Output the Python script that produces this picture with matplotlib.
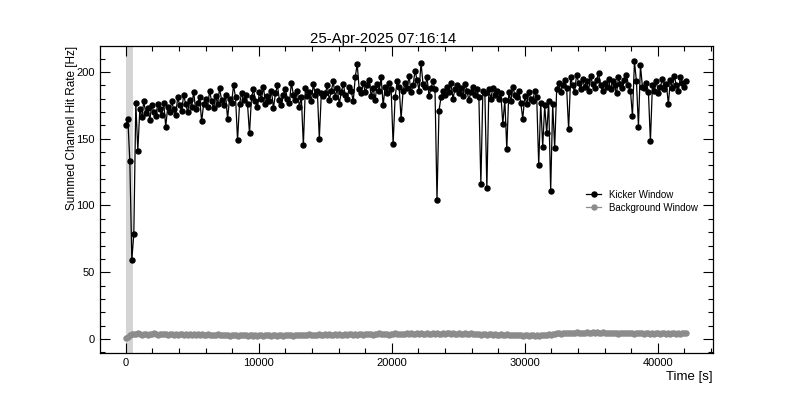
import numpy as np
import matplotlib
matplotlib.use("Agg")
import matplotlib.pyplot as plt
from matplotlib.ticker import MultipleLocator

plt.rcParams['font.family'] = ['Liberation Sans', 'DejaVu Sans']

# sample times [s], one every 150 s
time_s = np.arange(0, 42151, 150)

kicker_hz = [
    160, 165, 133, 59, 79, 177, 141, 172, 166, 178, 169, 173, 164, 175, 170, 167, 176, 172, 168, 177,
    159, 174, 170, 178, 172, 168, 181, 175, 171, 183, 176, 170, 179, 174, 185, 172, 177, 181, 163, 176,
    180, 174, 186, 178, 173, 182, 176, 188, 179, 175, 183, 165, 180, 177, 190, 181, 149, 176, 184, 179,
    183, 176, 154, 181, 187, 178, 174, 185, 180, 189, 176, 182, 178, 186, 173, 184, 190, 179, 175, 183,
    187, 180, 177, 192, 183, 179, 186, 174, 181, 145, 188, 182, 185, 178, 191, 183, 186, 150, 184, 182,
    184, 190, 179, 186, 193, 181, 188, 176, 185, 191, 183, 180, 189, 186, 178, 196, 206, 187, 184, 192,
    185, 190, 194, 182, 188, 179, 191, 186, 196, 175, 189, 184, 192, 187, 146, 181, 193, 189, 165, 186,
    192, 188, 197, 185, 190, 201, 194, 186, 207, 191, 189, 196, 182, 188, 193, 187, 104, 171, 181, 186,
    183, 189, 185, 192, 180, 187, 190, 184, 188, 182, 191, 186, 179, 185, 189, 183, 187, 181, 116, 186,
    184, 113, 187, 180, 188, 183, 186, 180, 184, 161, 179, 142, 185, 178, 189, 183, 181, 186, 177, 165,
    182, 176, 185, 180, 178, 186, 181, 130, 177, 144, 175, 154, 178, 111, 176, 143, 187, 192, 185, 190,
    194, 188, 157, 196, 190, 185, 198, 192, 187, 195, 189, 193, 186, 197, 191, 188, 194, 199, 190, 186,
    192, 189, 195, 187, 193, 190, 184, 196, 191, 188, 194, 198, 190, 186, 167, 208, 193, 159, 205, 189,
    188, 192, 185, 148, 190, 186, 193, 184, 189, 195, 187, 191, 176, 194, 188, 197, 190, 186, 196, 192,
    189, 193,
]

background_hz = [
    0.6, 1.2, 2.8, 3.4, 3.9, 3.5, 4.1, 3.6, 3.2, 4.0, 3.7, 3.3, 3.9, 3.5, 4.2, 3.6, 3.1, 3.8, 3.4, 4.0,
    3.6, 3.2, 3.9, 3.5, 3.0, 3.7, 3.3, 3.8, 3.4, 2.9, 3.6, 3.2, 3.7, 3.1, 3.5, 2.8, 3.4, 3.0, 3.6, 3.2,
    2.9, 3.4, 3.0, 2.6, 3.3, 2.9, 3.5, 2.7, 3.1, 2.6, 3.2, 2.8, 2.4, 3.1, 2.7, 3.3, 2.5, 2.9, 2.6, 3.2,
    2.8, 2.4, 3.0, 2.6, 2.3, 2.9, 2.5, 3.1, 2.7, 2.4, 3.0, 2.6, 2.9, 2.5, 3.2, 2.8, 2.4, 3.0, 2.7, 2.5,
    2.9, 2.6, 3.2, 2.8, 2.5, 3.1, 2.7, 3.3, 2.9, 2.6, 3.2, 2.8, 3.4, 3.0, 2.7, 3.3, 2.9, 3.5, 3.1, 2.8,
    3.4, 3.0, 3.6, 3.2, 2.9, 3.5, 3.1, 3.7, 3.3, 3.0, 3.6, 3.2, 3.8, 3.4, 3.1, 3.7, 3.3, 3.9, 3.5, 3.2,
    3.8, 3.4, 4.0, 3.6, 3.3, 3.9, 3.5, 4.1, 3.7, 3.4, 4.0, 3.6, 3.3, 3.9, 3.5, 4.2, 3.8, 3.4, 4.0, 3.7,
    3.5, 4.1, 3.7, 4.3, 3.9, 3.6, 4.2, 3.8, 4.4, 4.0, 3.7, 4.3, 3.9, 3.6, 4.2, 3.8, 4.4, 4.0, 3.7, 4.3,
    3.9, 4.5, 4.1, 3.8, 4.4, 4.0, 3.7, 4.3, 3.9, 3.6, 4.2, 3.8, 3.5, 4.1, 3.7, 3.4, 4.0, 3.6, 3.3, 3.9,
    3.5, 3.2, 3.8, 3.4, 3.0, 3.6, 3.2, 2.9, 3.5, 3.1, 2.8, 3.4, 3.0, 2.7, 3.3, 2.9, 2.6, 3.2, 2.8, 2.5,
    3.1, 2.7, 2.4, 3.0, 2.6, 2.3, 2.9, 2.5, 3.1, 2.7, 3.3, 2.9, 3.5, 3.2, 3.8, 3.5, 4.1, 4.4, 4.0, 4.6,
    4.2, 4.8, 4.4, 4.1, 4.7, 4.3, 4.9, 4.5, 4.2, 4.8, 4.4, 5.0, 4.6, 4.3, 4.9, 4.5, 5.2, 4.7, 4.4, 5.0,
    4.6, 4.2, 4.8, 4.4, 4.1, 4.7, 4.3, 4.0, 4.6, 4.2, 4.8, 4.4, 4.1, 4.7, 4.3, 3.9, 4.5, 4.1, 4.7, 4.3,
    4.0, 4.6, 4.2, 3.8, 4.4, 4.0, 4.6, 4.2, 3.9, 4.5, 4.1, 3.7, 4.3, 3.9, 4.5, 4.1, 3.8, 4.4, 4.0, 4.6,
    4.2, 4.5,
]

fig = plt.figure(figsize=(7.93, 3.97), dpi=100)
ax = fig.add_axes([0.126, 0.111, 0.773, 0.773])

ax.axvspan(0, 550, color='#d4d4d4', lw=0, zorder=0)

ax.plot(time_s, kicker_hz, color='black', marker='o', markersize=3.6, lw=0.9,
        label='Kicker Window', zorder=3)
ax.plot(time_s, background_hz, color='#8c8c8c', marker='o', markersize=3.6, lw=0.9,
        label='Background Window', zorder=2)

ax.set_xlim(-1950, 44150)
ax.set_ylim(-10.5, 219.5)

ax.xaxis.set_major_locator(MultipleLocator(10000))
ax.xaxis.set_minor_locator(MultipleLocator(2000))
ax.yaxis.set_major_locator(MultipleLocator(50))
ax.yaxis.set_minor_locator(MultipleLocator(10))
ax.tick_params(which='both', direction='in', top=True, right=True, labelsize=8)
ax.tick_params(which='major', length=7, width=0.8)
ax.tick_params(which='minor', length=3.5, width=0.8)
for s in ax.spines.values():
    s.set_linewidth(0.9)

ax.set_xlabel('Time [s]', fontsize=9.5, loc='right', labelpad=2)
ax.set_ylabel('Summed Channel Hit Rate [Hz]', fontsize=8.5, loc='top', labelpad=-1)

fig.text(383 / 793, 1 - 39 / 397, '25-Apr-2025 07:16:14', ha='center', va='center', fontsize=10.8)

ax.legend(loc='upper right', bbox_to_anchor=(0.99, 0.56), frameon=False, fontsize=7,
          handlelength=1.6, labelspacing=0.3)

fig.savefig('out.png', dpi=100)
